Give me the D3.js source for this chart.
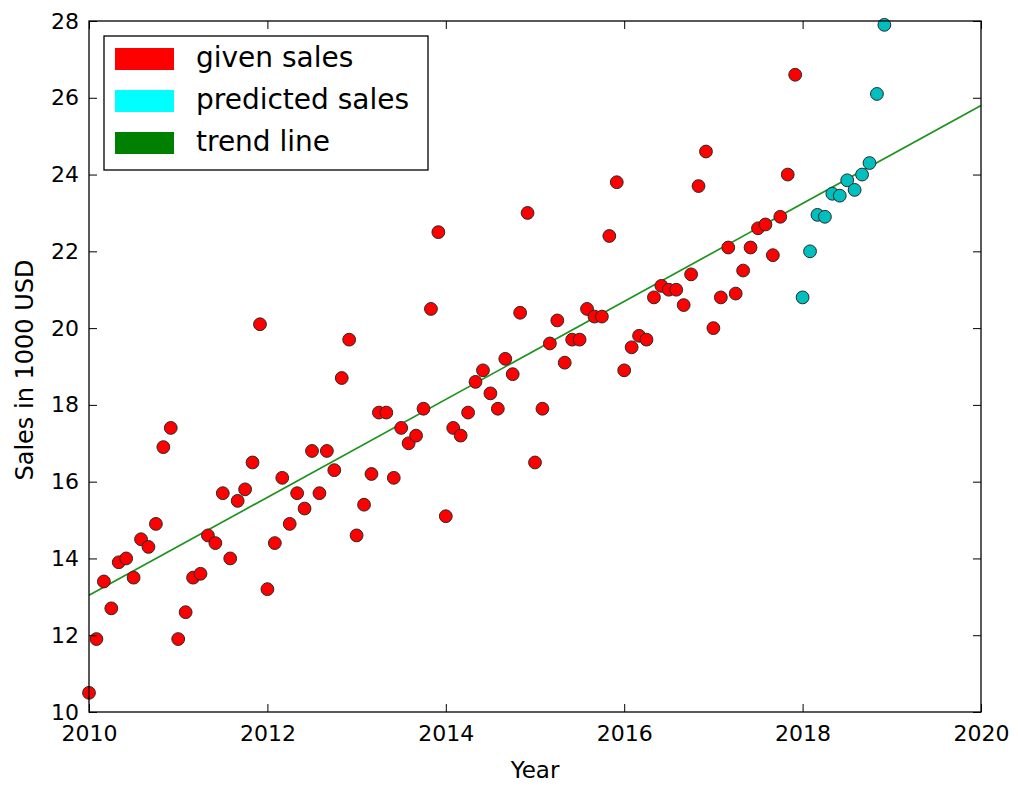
<!DOCTYPE html>
<html><head><meta charset="utf-8">
<script src="https://cdn.jsdelivr.net/npm/d3@7"></script>
<style>
html,body{margin:0;padding:0;background:#fff;}
svg text{font-family:"DejaVu Sans",sans-serif;fill:#000;}
</style></head>
<body><svg id="c" width="1018" height="787"></svg>
<script>
// Given monthly sales 2010-01 .. 2017-12 (in 1000 USD)
const givenSales = [
 10.5,11.9,13.4,12.7,13.9,14.0,13.5,14.5,14.3,14.9,16.9,17.4,
 11.9,12.6,13.5,13.6,14.6,14.4,15.7,14.0,15.5,15.8,16.5,20.1,
 13.2,14.4,16.1,14.9,15.7,15.3,16.8,15.7,16.8,16.3,18.7,19.7,
 14.6,15.4,16.2,17.8,17.8,16.1,17.4,17.0,17.2,17.9,20.5,22.5,
 15.1,17.4,17.2,17.8,18.6,18.9,18.3,17.9,19.2,18.8,20.4,23.0,
 16.5,17.9,19.6,20.2,19.1,19.7,19.7,20.5,20.3,20.3,22.4,23.8,
 18.9,19.5,19.8,19.7,20.8,21.1,21.0,21.0,20.6,21.4,23.7,24.6,
 20.0,20.8,22.1,20.9,21.5,22.1,22.6,22.7,21.9,22.9,24.0,26.6
];
// Predicted monthly sales 2018-01 .. 2018-12
const predictedSales = [20.8,22.0,22.95,22.9,23.5,23.45,23.85,23.6,24.0,24.3,26.1,27.9];
const givenStartYear = 2010;
const predictedStartYear = 2018;
// Trend line endpoints
const trendYears = [2010, 2020];
const trendValues = [13.04, 25.8];
const xTicks = [2010,2012,2014,2016,2018,2020];
const yTicks = [10,12,14,16,18,20,22,24,26,28];
const legendLabels = ["given sales","predicted sales","trend line"];
const legendColors = ["#ff0000","#00ffff","#008000"];

const L=89, R=981, T=21, B=712;
const svg = d3.select("#c");
const x = d3.scaleLinear().domain([2010,2020]).range([L,R]);
const y = d3.scaleLinear().domain([10,28]).range([B,T]);

svg.append("clipPath").attr("id","pa").append("rect")
  .attr("x",L).attr("y",T).attr("width",R-L).attr("height",B-T);

const plot = svg.append("g").attr("clip-path","url(#pa)");
plot.append("path")
  .datum(trendYears.map((yr,i)=>[yr,trendValues[i]]))
  .attr("d", d3.line().x(d=>x(d[0])).y(d=>y(d[1])))
  .attr("stroke","#1f931f").attr("stroke-width",1.7).attr("fill","none");

const marks = svg.append("g");
marks.selectAll("circle.g").data(givenSales).join("circle")
  .attr("class","g")
  .attr("cx",(d,i)=>x(givenStartYear+i/12)).attr("cy",d=>y(d))
  .attr("r",6.4).attr("fill","#ff0000").attr("stroke","#2a2a2a").attr("stroke-width",1);
marks.selectAll("circle.p").data(predictedSales).join("circle")
  .attr("class","p")
  .attr("cx",(d,i)=>x(predictedStartYear+i/12)).attr("cy",d=>y(d))
  .attr("r",6.4).attr("fill","#00bfbf").attr("stroke","#2a2a2a").attr("stroke-width",1);

// axes with inward ticks
const tl = 8;
const fs = 22;
svg.append("g").attr("transform",`translate(0,${B})`)
  .call(d3.axisBottom(x).tickValues(xTicks).tickFormat(d3.format("d")).tickSize(-tl).tickPadding(13))
  .call(g=>{g.select(".domain").remove();g.selectAll("text").attr("font-size",fs).attr("font-family","DejaVu Sans");});
svg.append("g").attr("transform",`translate(0,${T})`)
  .call(d3.axisTop(x).tickValues(xTicks).tickFormat("").tickSize(-tl))
  .call(g=>g.select(".domain").remove());
svg.append("g").attr("transform",`translate(${L},0)`)
  .call(d3.axisLeft(y).tickValues(yTicks).tickFormat(d3.format("d")).tickSize(-tl).tickPadding(10))
  .call(g=>{g.select(".domain").remove();g.selectAll("text").attr("font-size",fs).attr("font-family","DejaVu Sans");});
svg.append("g").attr("transform",`translate(${R},0)`)
  .call(d3.axisRight(y).tickValues(yTicks).tickFormat("").tickSize(-tl))
  .call(g=>g.select(".domain").remove());

svg.append("rect").attr("x",L).attr("y",T).attr("width",R-L).attr("height",B-T)
  .attr("fill","none").attr("stroke","#000").attr("stroke-width",1.3);

svg.append("text").attr("x",(L+R)/2).attr("y",778).attr("text-anchor","middle")
  .attr("font-size",23).text("Year");
svg.append("text").attr("transform",`translate(33,${370}) rotate(-90)`)
  .attr("text-anchor","middle").attr("font-size",24).text("Sales in 1000 USD");

// legend
const lg = svg.append("g");
lg.append("rect").attr("x",104).attr("y",36).attr("width",324).attr("height",134)
  .attr("fill","#fff").attr("stroke","#000").attr("stroke-width",1.3);
legendLabels.forEach((lab,i)=>{
  const yy = 48 + i*42;
  lg.append("rect").attr("x",115).attr("y",yy).attr("width",59).attr("height",22).attr("fill",legendColors[i]);
  lg.append("text").attr("x",196).attr("y",yy+19).attr("font-size",28).text(lab);
});
</script></body></html>
